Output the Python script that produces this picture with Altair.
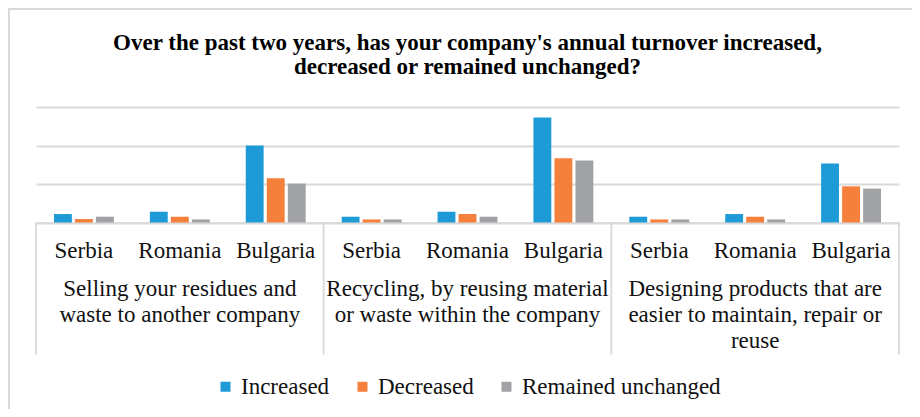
import altair as alt
import pandas as pd

groups = [
    "Selling your residues and\nwaste to another company",
    "Recycling, by reusing material\nor waste within the company",
    "Designing products that are\neasier to maintain, repair or\nreuse",
]
countries = ["Serbia", "Romania", "Bulgaria"]
series = ["Increased", "Decreased", "Remained unchanged"]
colors = ["#1E9BD7", "#F5803C", "#A0A2A6"]

# values (gridline units x10), per group, per country: [Increased, Decreased, Remained]
selling = [[2.2, 0.9, 1.5], [2.8, 1.5, 0.8], [20.0, 11.5, 10.1]]
recycling = [[1.5, 0.8, 0.8], [2.8, 2.2, 1.5], [27.3, 16.7, 16.1]]
designing = [[1.5, 0.8, 0.8], [2.2, 1.5, 0.8], [15.3, 9.4, 8.8]]
values = [selling, recycling, designing]

title_text = (
    "Over the past two years, has your company's annual turnover increased,\n"
    "decreased or remained unchanged?"
)

FONT = "'Liberation Serif', 'Times New Roman', serif"
GRID = "#d9d9d9"
W, H = 863, 115.5

rows = []
slot_order = []
for gi, g in enumerate(groups):
    for ci, c in enumerate(countries):
        slot = f"{gi}|{c}"
        slot_order.append(slot)
        for si, s in enumerate(series):
            rows.append({"slot": slot, "series": s, "value": values[gi][ci][si]})
df = pd.DataFrame(rows)

df_groups = pd.DataFrame({"center": [i + 0.5 for i in range(len(groups))], "label": groups})
df_sep = pd.DataFrame({"pos": list(range(len(groups) + 1))})
df_one = pd.DataFrame({"k": [0]})
df_title = pd.DataFrame({"t": [title_text]})

bars = alt.Chart(df).mark_bar().encode(
    x=alt.X(
        "slot:N",
        sort=slot_order,
        scale=alt.Scale(paddingInner=0.375, paddingOuter=0.1875),
        axis=alt.Axis(
            title=None,
            labelExpr="split(datum.label, '|')[1]",
            ticks=False,
            domain=True,
            domainColor=GRID,
            domainWidth=1.5,
            labelFont=FONT,
            labelFontSize=23,
            labelColor="#111111",
            labelPadding=17,
            labelAngle=0,
            labelOverlap=False,
            labelLimit=0,
            grid=False,
        ),
    ),
    xOffset=alt.XOffset("series:N", sort=series, scale=alt.Scale(paddingInner=0.15)),
    y=alt.Y(
        "value:Q",
        scale=alt.Scale(domain=[0, 30], nice=False),
        axis=alt.Axis(
            title=None,
            labels=False,
            ticks=False,
            domain=False,
            values=[0, 10, 20, 30],
            gridColor=GRID,
            gridWidth=1.8,
        ),
    ),
    color=alt.Color(
        "series:N",
        sort=series,
        scale=alt.Scale(domain=series, range=colors),
        legend=alt.Legend(
            title=None,
            orient="none",
            legendX=178,
            legendY=268,
            direction="horizontal",
            symbolType="square",
            symbolSize=100,
            symbolStrokeWidth=0,
            labelFont=FONT,
            labelFontSize=23,
            labelColor="#111111",
            labelOffset=4,
            labelLimit=0,
            columnPadding=21,
        ),
    ),
)

group_text = alt.Chart(df_groups).mark_text(
    font=FONT, fontSize=23, lineBreak="\n", baseline="top", lineHeight=26, color="#111111"
).encode(
    x=alt.X("center:Q", scale=alt.Scale(domain=[0, 3]), axis=None),
    y=alt.value(H + 55),
    text="label:N",
)

title = alt.Chart(df_title).mark_text(
    font=FONT, fontSize=23, fontWeight="bold", lineBreak="\n", baseline="alphabetic",
    lineHeight=24, color="#000000", align="center",
).encode(
    x=alt.value(W / 2),
    y=alt.value(-57),
    text="t:N",
)

seps = alt.Chart(df_sep).mark_rule(color=GRID, strokeWidth=1.8).encode(
    x=alt.X("pos:Q", scale=alt.Scale(domain=[0, 3]), axis=None),
    y=alt.value(H),
    y2=alt.value(H + 132),
)

border_left = alt.Chart(df_one).mark_rule(color=GRID, strokeWidth=2).encode(
    x=alt.value(-27), y=alt.value(-98), y2=alt.value(H + 200)
)
border_top = alt.Chart(df_one).mark_rule(color=GRID, strokeWidth=2).encode(
    x=alt.value(-28), x2=alt.value(W + 20), y=alt.value(-98)
)

chart = (
    alt.layer(bars, group_text, seps, title, border_left, border_top)
    .resolve_scale(x="independent")
    .properties(
        width=W,
        height=H,
        autosize=alt.AutoSizeParams(type="none"),
        padding={"left": 28, "top": 99, "right": 13, "bottom": 186},
    )
    .configure_view(stroke=None)
)

chart.save("out.html", embed_options={"renderer": "svg", "actions": False})
